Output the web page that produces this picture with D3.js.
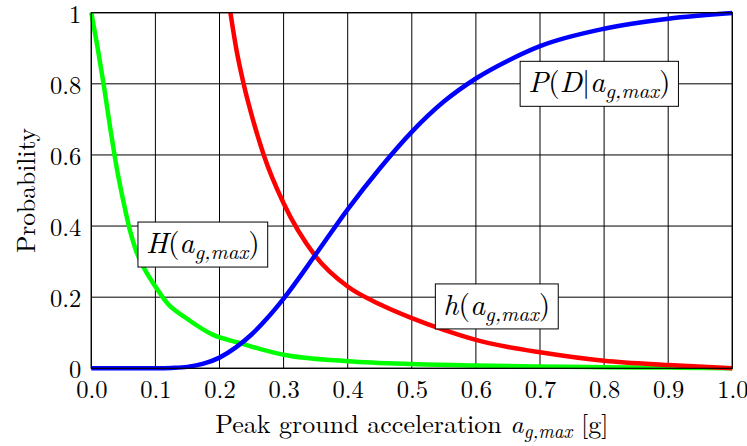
<!DOCTYPE html>
<html>
<head>
<meta charset="utf-8">
<script src="https://cdn.jsdelivr.net/npm/d3@7"></script>
<style>
  html, body { margin: 0; padding: 0; background: #fff; }
  svg { display: block; }
</style>
</head>
<body>
<svg id="chart" width="747" height="446"></svg>
<script>
// Hazard curve H(a), hazard density h(a) and fragility P(D|a) over peak ground acceleration [g]
const hazardX = [0, 0.01, 0.02, 0.03, 0.04, 0.05, 0.06, 0.07, 0.08, 0.10, 0.12, 0.145, 0.19, 0.23, 0.285, 0.30, 0.40, 0.50, 0.60, 0.70, 0.80, 0.90, 1.00];
const hazardY = [1.0, 0.90, 0.79, 0.67, 0.56, 0.47, 0.39, 0.33, 0.29, 0.23, 0.18, 0.145, 0.094, 0.072, 0.044, 0.038, 0.02, 0.012, 0.008, 0.005, 0.003, 0.002, 0.0];

const densityX = [0.217, 0.226, 0.2376, 0.252, 0.269, 0.30, 0.35, 0.40, 0.45, 0.50, 0.55, 0.60, 0.65, 0.70, 0.80, 0.90, 1.00];
const densityY = [1.0, 0.9, 0.8, 0.7, 0.6, 0.464, 0.315, 0.23, 0.18, 0.141, 0.108, 0.08, 0.06, 0.045, 0.021, 0.009, 0.0];

const fragilityX = [0, 0.10, 0.125, 0.15, 0.175, 0.20, 0.225, 0.25, 0.275, 0.30, 0.35, 0.40, 0.45, 0.50, 0.55, 0.60, 0.65, 0.70, 0.80, 0.90, 1.00];
const fragilityY = [0, 0.0, 0.001, 0.004, 0.013, 0.03, 0.058, 0.095, 0.142, 0.196, 0.32, 0.447, 0.562, 0.665, 0.75, 0.815, 0.865, 0.906, 0.955, 0.983, 0.999];

const xTicks = [0, 0.1, 0.2, 0.3, 0.4, 0.5, 0.6, 0.7, 0.8, 0.9, 1.0];
const xTickLabels = ["0.0", "0.1", "0.2", "0.3", "0.4", "0.5", "0.6", "0.7", "0.8", "0.9", "1.0"];
const yTicks = [0, 0.2, 0.4, 0.6, 0.8, 1];
const yTickLabels = ["0", "0.2", "0.4", "0.6", "0.8", "1"];

// Curve labels: symbol parts (text, italic), subscript, closing text, box centre in data units
const curveLabels = [
  { head: [["H", true], ["(", false], ["a", true]], sub: "g,max", tail: ")", cx: 0.174, cy: 0.348 },
  { head: [["P", true], ["(", false], ["D", true], ["|", false], ["a", true]], sub: "g,max", tail: ")", cx: 0.7925, cy: 0.80 },
  { head: [["h", true], ["(", false], ["a", true]], sub: "g,max", tail: ")", cx: 0.6326, cy: 0.174 }
];

const FONT = '"Latin Modern Roman", "Liberation Serif", serif';
const svg = d3.select("#chart");
const W = 747, H = 446;
const margin = { left: 91.3, right: W - 732.3, top: 12.7, bottom: H - 368.3 };

const x = d3.scaleLinear().domain([0, 1]).range([margin.left, W - margin.right]);
const y = d3.scaleLinear().domain([0, 1]).range([H - margin.bottom, margin.top]);

// grid
const grid = svg.append("g");
grid.selectAll("line.v").data(xTicks).join("line").attr("class", "v")
  .attr("x1", d => x(d)).attr("x2", d => x(d))
  .attr("y1", y(0)).attr("y2", y(1))
  .attr("stroke", "#000").attr("stroke-width", 1);
grid.selectAll("line.h").data(yTicks).join("line").attr("class", "h")
  .attr("y1", d => y(d)).attr("y2", d => y(d))
  .attr("x1", x(0)).attr("x2", x(1))
  .attr("stroke", "#000").attr("stroke-width", 1);

// curves
const line = d3.line().x(d => x(d[0])).y(d => y(d[1])).curve(d3.curveMonotoneX);
const series = [
  { xs: hazardX, ys: hazardY, color: "#00ff00" },
  { xs: densityX, ys: densityY, color: "#ff0000" },
  { xs: fragilityX, ys: fragilityY, color: "#0000ff" }
];
svg.append("g").selectAll("path").data(series).join("path")
  .attr("d", s => line(s.xs.map((v, i) => [v, s.ys[i]])))
  .attr("fill", "none")
  .attr("stroke", s => s.color)
  .attr("stroke-width", 4.5)
  .attr("stroke-linejoin", "round");

// frame
svg.append("rect")
  .attr("x", x(0)).attr("y", y(1))
  .attr("width", x(1) - x(0)).attr("height", y(0) - y(1))
  .attr("fill", "none").attr("stroke", "#000").attr("stroke-width", 1.2);

// axes
const xAxis = d3.axisBottom(x).tickValues(xTicks).tickSize(0).tickPadding(0)
  .tickFormat((d, i) => xTickLabels[i]);
const gx = svg.append("g").attr("transform", `translate(0,${y(0)})`).call(xAxis);
gx.select(".domain").remove();
gx.selectAll("text").attr("dy", null).attr("y", 29.5)
  .style("font-family", FONT).style("font-size", "24.5px").attr("fill", "#000");

const yAxis = d3.axisLeft(y).tickValues(yTicks).tickSize(0).tickPadding(0)
  .tickFormat((d, i) => yTickLabels[i]);
const gy = svg.append("g").attr("transform", `translate(${x(0) - 10},0)`).call(yAxis);
gy.select(".domain").remove();
gy.selectAll("text").attr("dy", null).attr("y", 9.5).attr("x", 0)
  .style("font-family", FONT).style("font-size", "24.5px").attr("fill", "#000");

// axis titles
const xt = svg.append("text")
  .attr("x", (x(0) + x(1)) / 2).attr("y", 433)
  .attr("text-anchor", "middle")
  .style("font-family", FONT).style("font-size", "26px");
xt.append("tspan").text("Peak ground acceleration ");
xt.append("tspan").style("font-style", "italic").text("a");
xt.append("tspan").style("font-style", "italic").style("font-size", "19px").attr("dy", 5).text("g,max");
xt.append("tspan").attr("dy", -5).text(" [g]");

svg.append("text")
  .attr("transform", `translate(35,${(y(0) + y(1)) / 2}) rotate(-90)`)
  .attr("text-anchor", "middle")
  .style("font-family", FONT).style("font-size", "25.5px")
  .text("Probability");

// labelled boxes
curveLabels.forEach(lb => {
  const g = svg.append("g");
  const rect = g.append("rect").attr("fill", "#fff").attr("stroke", "#000").attr("stroke-width", 1);
  const t = g.append("text").style("font-family", FONT).style("font-size", "29.5px");
  lb.head.forEach(([s, it]) => t.append("tspan").style("font-style", it ? "italic" : "normal").text(s));
  t.append("tspan").style("font-style", "italic").style("font-size", "21px").attr("dy", 6).text(lb.sub);
  t.append("tspan").attr("dy", -6).text(lb.tail);
  const bb = t.node().getBBox();
  const cx = x(lb.cx), cy = y(lb.cy);
  const bw = bb.width + 16, bh = 45;
  t.attr("x", cx - bb.width / 2).attr("y", cy + 8.5);
  rect.attr("x", cx - bw / 2).attr("y", cy - bh / 2).attr("width", bw).attr("height", bh);
});
</script>
</body>
</html>
